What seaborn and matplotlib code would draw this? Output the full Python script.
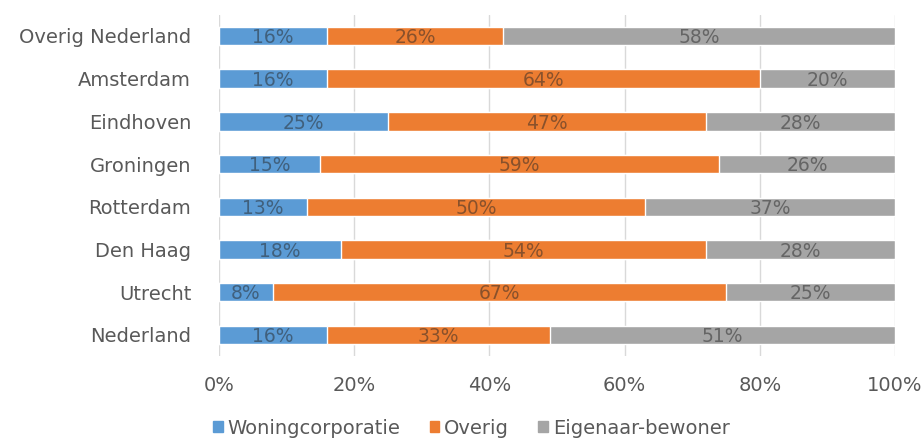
import matplotlib.pyplot as plt
import matplotlib.patches as mpatches
import seaborn as sns
import pandas as pd
import numpy as np

regio = ['Overig Nederland', 'Amsterdam', 'Eindhoven', 'Groningen',
         'Rotterdam', 'Den Haag', 'Utrecht', 'Nederland']
woningcorporatie = [16, 16, 25, 15, 13, 18, 8, 16]
overig = [26, 64, 47, 59, 50, 54, 67, 33]
eigenaar = [58, 20, 28, 26, 37, 28, 25, 51]

series = ['Woningcorporatie', 'Overig', 'Eigenaar-bewoner']
colors = ['#5B9BD5', '#ED7D31', '#A5A5A5']

df = pd.DataFrame({'regio': regio, 'Woningcorporatie': woningcorporatie,
                   'Overig': overig, 'Eigenaar-bewoner': eigenaar})
cum = df[series].cumsum(axis=1)

sns.set_style('white')
plt.rcParams['font.family'] = ['DejaVu Sans']

fig = plt.figure(figsize=(9.24, 4.44), dpi=100)
ax = fig.add_axes([0.237, 0.198, 0.7316, 0.769])

# stack by overdrawing cumulative totals, widest first
for s, c in zip(series[::-1], colors[::-1]):
    sns.barplot(x=cum[s], y=df['regio'], color=c, orient='h', width=0.43,
                saturation=1, ax=ax, zorder=2)

for i in range(len(regio)):
    left = 0
    for s in series:
        v = df[s][i]
        ax.text(left + v / 2, i + 0.04, f'{v}%', ha='center', va='center',
                fontsize=13.5, color='#262626', alpha=0.5, zorder=3)
        left += v

ax.set_xlim(0, 100)
ax.set_ylim(len(regio) - 0.5, -0.5)
ax.set_xticks(np.arange(0, 101, 20))
ax.set_xticklabels([f'{t}%' for t in range(0, 101, 20)])
ax.xaxis.grid(True, color='#D9D9D9', linewidth=1, zorder=0)
ax.set_axisbelow(True)
ax.set_xlabel('')
ax.set_ylabel('')
for sp in ax.spines.values():
    sp.set_visible(False)
ax.tick_params(axis='x', labelsize=14, colors='#595959', length=0, pad=14)
ax.tick_params(axis='y', labelsize=14, colors='#595959', length=0, pad=20)

handles = [mpatches.Patch(color=c, label=s) for s, c in zip(series, colors)]
fig.legend(handles=handles, loc='lower center', bbox_to_anchor=(0.51, -0.025),
           ncol=3, frameon=False, fontsize=14, labelcolor='#595959',
           handlelength=0.5, handleheight=0.5, handletextpad=0.25,
           columnspacing=1.5)

fig.savefig('out.png', dpi=100)
